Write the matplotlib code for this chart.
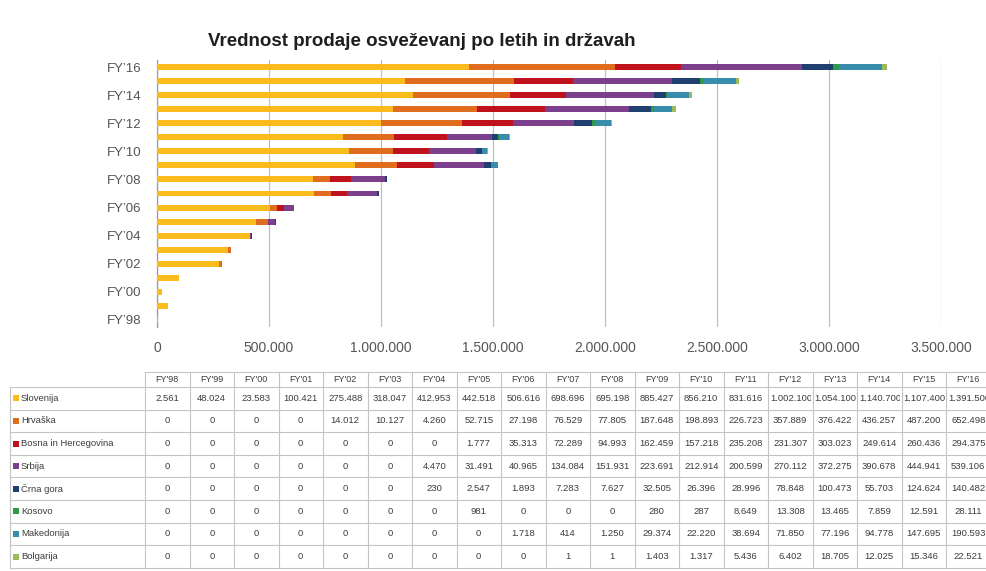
import matplotlib
matplotlib.use('Agg')
import matplotlib.pyplot as plt
from matplotlib.patches import Rectangle
from matplotlib.ticker import MultipleLocator, FuncFormatter
from matplotlib.transforms import Bbox, TransformedBbox
import numpy as np

plt.rcParams['font.family'] = ['Liberation Sans', 'DejaVu Sans']

years = ["FY'98", "FY'99", "FY'00", "FY'01", "FY'02", "FY'03", "FY'04", "FY'05", "FY'06", "FY'07",
         "FY'08", "FY'09", "FY'10", "FY'11", "FY'12", "FY'13", "FY'14", "FY'15", "FY'16"]
countries = ["Slovenija", "Hrvaška", "Bosna in Hercegovina", "Srbija", "Črna gora",
             "Kosovo", "Makedonija", "Bolgarija"]

slovenija = [2561, 48024, 23583, 100421, 275488, 318047, 412953, 442518, 506616, 698696,
             695198, 885427, 856210, 831616, 1002100, 1054100, 1140700, 1107400, 1391500]
hrvaska = [0, 0, 0, 0, 14012, 10127, 4260, 52715, 27198, 76529,
           77805, 187648, 198893, 226723, 357889, 376422, 436257, 487200, 652498]
bosna = [0, 0, 0, 0, 0, 0, 0, 1777, 35313, 72289,
         94993, 162459, 157218, 235208, 231307, 303023, 249614, 260436, 294375]
srbija = [0, 0, 0, 0, 0, 0, 4470, 31491, 40965, 134084,
          151931, 223691, 212914, 200599, 270112, 372275, 390678, 444941, 539106]
crna_gora = [0, 0, 0, 0, 0, 0, 230, 2547, 1893, 7283,
             7627, 32505, 26396, 28996, 78848, 100473, 55703, 124624, 140482]
kosovo = [0, 0, 0, 0, 0, 0, 0, 981, 0, 0,
          0, 280, 287, 8649, 13308, 13465, 7859, 12591, 28111]
makedonija = [0, 0, 0, 0, 0, 0, 0, 0, 1718, 414,
              1250, 29374, 22220, 38694, 71850, 77196, 94778, 147695, 190593]
bolgarija = [0, 0, 0, 0, 0, 0, 0, 0, 0, 1,
             1, 1403, 1317, 5436, 6402, 18705, 12025, 15346, 22521]

series = [slovenija, hrvaska, bosna, srbija, crna_gora, kosovo, makedonija, bolgarija]
colors = ['#F9BC1C', '#E06C1E', '#C0121C', '#7B3F8C', '#1F3F70', '#2E9A47', '#3A8DAA', '#9BBB59']

title = "Vrednost prodaje osveževanj po letih in državah"

W, H = 986, 571
fig = plt.figure(figsize=(W / 100, H / 100), dpi=100)
fig.patch.set_facecolor('white')

# ---------------- chart ----------------
x0, x1, ytop, ybot = 157, 941, 60, 327
ax = fig.add_axes([x0 / W, 1 - ybot / H, (x1 - x0) / W, (ybot - ytop) / H])
ypos = np.arange(len(years))
left = np.zeros(len(years))
for vals, c in zip(series, colors):
    v = np.array(vals, dtype=float)
    ax.barh(ypos, v, left=left, height=0.42, color=c, linewidth=0, zorder=3)
    left += v

ax.set_xlim(0, 3500000)
ax.set_ylim(-0.5, len(years) - 0.5)
ax.set_yticks(ypos[::2])
ax.set_yticklabels([y.replace("'", "’") for y in years[::2]])
ax.xaxis.set_major_locator(MultipleLocator(500000))
ax.xaxis.set_major_formatter(FuncFormatter(lambda v, p: f"{int(v):,}".replace(",", ".")))
ax.grid(axis='x', color='#BFBFBF', lw=0.9, zorder=0)
ax.set_axisbelow(True)
for s in ['top', 'right', 'bottom']:
    ax.spines[s].set_visible(False)
ax.spines['left'].set_color('#9A9A9A')
ax.spines['left'].set_linewidth(0.9)
ax.tick_params(axis='both', length=0, colors='#555555', labelsize=10)
ax.tick_params(axis='y', pad=11, labelsize=9.5)
ax.tick_params(axis='x', pad=10)

fig.text(422 / W, 1 - 41 / H, title, ha='center', va='center', fontsize=13.5,
         fontweight='bold', color='#1E1E1E',
         family=['Liberation Sans Narrow', 'Liberation Sans', 'DejaVu Sans'])

# ---------------- table ----------------
tax = fig.add_axes([0, 0, 1, 1])
tax.set_xlim(0, W)
tax.set_ylim(H, 0)
tax.axis('off')

lab_l, lab_r = 10, 145
colw = 44.5
head_t, head_b = 372, 387
rowh = 22.6
nrows = len(countries)
tab_b = head_b + nrows * rowh
gc = '#C4C4C4'
tc = '#3C3C3C'

# lines
tax.plot([lab_r, W], [head_t, head_t], color=gc, lw=0.8)
for k in range(nrows + 1):
    yy = head_b + k * rowh
    tax.plot([lab_l, W], [yy, yy], color=gc, lw=0.8)
tax.plot([lab_l, lab_l], [head_b, tab_b], color=gc, lw=0.8)
for i in range(len(years) + 1):
    xx = lab_r + i * colw
    tax.plot([xx, xx], [head_t, tab_b], color=gc, lw=0.8)

fmt = lambda v: f"{int(v):,}".replace(",", ".")

for i, yname in enumerate(years):
    cx = lab_r + (i + 0.5) * colw
    tax.text(cx, (head_t + head_b) / 2 + 0.5, yname, ha='center', va='center',
             fontsize=6.5, color=tc)

for r, (name, vals, c) in enumerate(zip(countries, series, colors)):
    cy = head_b + (r + 0.5) * rowh
    tax.add_patch(Rectangle((13, cy - 3), 6, 6, color=c, lw=0))
    tax.text(21, cy, name, ha='left', va='center', fontsize=6.8, color=tc)
    for i, v in enumerate(vals):
        cl = lab_r + i * colw
        s = fmt(v)
        if v >= 1000000:
            t = tax.text(cl + 2, cy, s, ha='left', va='center', fontsize=6.8, color=tc)
            bb = Bbox.from_extents(cl + 0.5, head_b + r * rowh, cl + colw - 1.5, head_b + (r + 1) * rowh)
            t.set_clip_box(TransformedBbox(bb, tax.transData))
            t.set_clip_on(True)
        else:
            tax.text(cl + colw / 2, cy, s, ha='center', va='center', fontsize=6.8, color=tc)

fig.savefig('out.png', dpi=100, facecolor='white')
